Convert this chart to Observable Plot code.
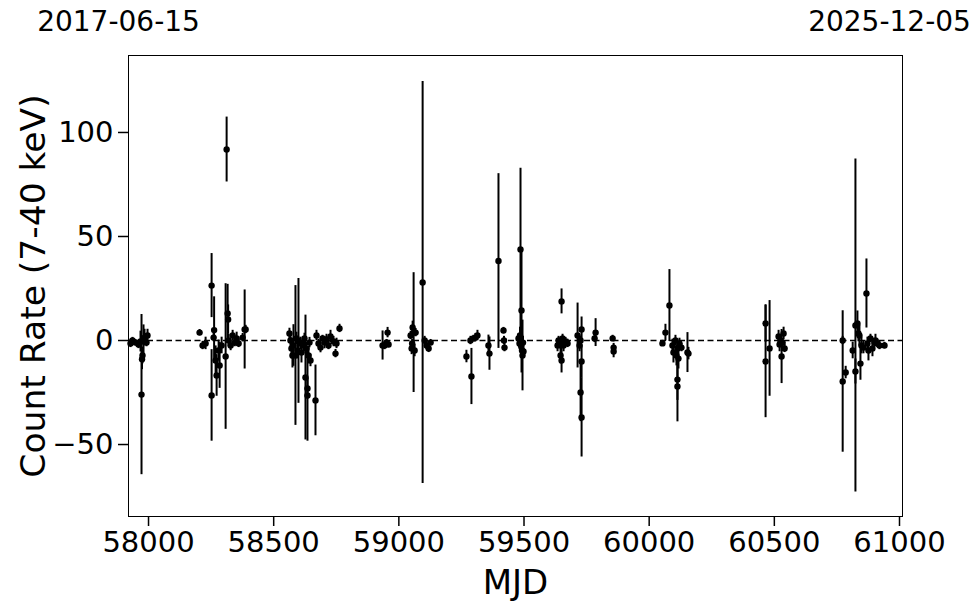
<!DOCTYPE html>
<html>
<head>
<meta charset="utf-8">
<script src="https://cdn.jsdelivr.net/npm/d3@7"></script>
<script src="https://cdn.jsdelivr.net/npm/@observablehq/plot@0.6"></script>
<style>
  html, body { margin: 0; padding: 0; background: #fff; }
  #chart svg { display: block; }
</style>
</head>
<body>
<div id="chart"></div>
<script>
const mjd = [
  57928,57936,57948,57960,57968,57972,57974,57976,57980,57984,57992,57996,
  58204,58216,58228,58252,58252,58260,58262,58268,58272,58280,58284,58292,58308,58312,58316,58318,58320,58328,58336,58344,58352,58360,58376,58384,58388,
  58563,58567,58571,58575,58579,58587,58591,58595,58599,58607,58611,58619,58623,58627,58631,58635,58635,58639,58643,58647,58667,58671,58679,58687,58695,58703,58711,58719,58727,58739,58747,58751,58763,
  58935,58943,58951,58955,58959,
  59047,59051,59053,59055,59059,59063,59067,59095,59103,59111,59119,59127,
  59270,59286,59290,59298,59306,59314,
  59358,59362,
  59398,59418,59420,59422,
  59478,59482,59484,59486,59488,59490,59492,59494,59496,59498,
  59634,59638,59646,59646,59650,59650,59654,59658,59666,59674,
  59714,59722,59726,59726,59730,59730,59730,59782,59786,59854,59858,59858,
  60053,60065,60081,60093,60097,60105,60109,60113,60113,60113,60117,60121,60129,60153,60157,
  60465,60465,60481,60517,60521,60525,60529,60533,60537,60541,
  60773,60773,60785,60813,60824,60824,60832,60836,60840,60844,60848,60856,60868,60872,60876,60884,60892,60900,60904,60912,60920,60940
];
const rate = [
  -1.4,0,-1.0,-1.9,-0.5,-26.0,-9,-7.2,-0.5,1.4,-1.0,2.4,
  3.8,-2.4,-1.4,26.4,-26.4,1.4,5,-9.6,-16.8,-4.8,-12,-2.4,-7.7,91.8,13,10.1,0,-2.4,2.4,-1,1,-1.4,1.4,5.3,5.3,
  3.4,0,-3.8,-7.2,-2.4,-7.2,1,-4.8,-0.2,-1.4,-5.8,-2.4,1,-17.8,-3.8,-23.1,-26.4,-7.2,-1,-9.6,-28.8,2.4,-1.4,-3.4,1,-1,0.5,-2.4,1.9,-0.5,-6.3,-1.4,5.8,
  -2.4,-2.4,-1,3.8,-1.9,
  2.4,-3.8,-1.4,6.3,3.8,-4.8,3.8,27.9,0,-2.4,-3.8,-1,
  -7.7,0,-17.3,1,1.4,2.4,
  -2.4,-6.3,
  38.2,4.8,0,-3.4,
  1,-1.4,2.4,43.8,-2.4,14.4,-4.8,-7.2,-1,-5.3,
  -2.4,0,-1.4,-7.2,18.8,-9.6,1,-2.4,-0.5,-1.4,
  2.4,-2.4,0,-25.0,5.3,-10.1,-37.0,1,3.8,1,-3.4,-5.3,
  -1.4,3.8,16.8,-2.4,-5.8,0,-7.2,-3.8,-18.8,-22.1,-8.7,-1.4,-3.4,-5.8,-6.3,
  8.2,-10.1,-3.8,1.9,-1.9,0,-7.7,-1,3.4,-3.8,
  0,-19.7,-15.4,-4.8,7.2,-14.9,8.2,3.4,2.4,-11.1,-2.4,-3.4,22.6,-1.4,-4.8,1,-3.8,-1,0,-1.4,-2.4,-2.4
];
const err = [
  2,1.5,1.5,2,5,38.5,5,4,8,4,2,3,
  1.5,2,3,15.4,22,2,16,7,10,5,11,4,35,15.6,14,7,3,2.5,2.5,2,3,2,2,19,2,
  2.5,4,5,6,10,33.6,3,4,30,3,5,4,2.5,30,3,5,22,4,2.5,3,17,2.5,2,2.5,1.5,3,2.5,2,3,2.5,2,2.5,2,
  7,2,1.5,2.5,1.5,
  2,3,2,3,28.8,3,2,96.6,2,2,2,1.5,
  3,2,13.5,1.5,2,2.5,
  5,8,
  42,1.5,2,2,
  2,3,4,39,5,30,6,17,3,3,
  3,2,3,4,6,6,2,3,2,2,
  15.6,3,2,14,6,8,19,2,6.7,1.5,2,3,
  1.5,4,17.3,3,5,2.5,5,4,10,17,5,2.5,2,9.6,3,
  9,27,23,3,3.5,2,13,2,3,2,
  2,34,3,4,80,6,6,4,5,8,4,3,16.6,3,5,2,4,2,3,2,2,1.5
];
const xTicks = [58000, 58500, 59000, 59500, 60000, 60500, 61000];
const yTicks = [-50, 0, 50, 100];
const dateLabels = ["2017-06-15", "2025-12-05"];
const xLabel = "MJD";
const yLabel = "Count Rate (7-40 keV)";

const data = mjd.map((m, i) => ({mjd: m, rate: rate[i], err: err[i]}));

const plot = Plot.plot({
  width: 980,
  height: 613,
  marginTop: 55,
  marginLeft: 128,
  marginRight: 78,
  marginBottom: 97,
  style: {fontFamily: "DejaVu Sans", fontSize: "29px", color: "#000", background: "#fff"},
  x: {domain: [57920, 61012], ticks: xTicks, tickFormat: d => String(d), label: null},
  y: {domain: [-84.6, 137], ticks: yTicks, label: null},
  marks: [
    Plot.ruleY([0], {stroke: "#000", strokeWidth: 1.5, strokeDasharray: "6,3.5"}),
    Plot.ruleX(data, {x: "mjd", y1: d => d.rate - d.err, y2: d => d.rate + d.err, stroke: "#000", strokeWidth: 2}),
    Plot.dot(data, {x: "mjd", y: "rate", r: 3.2, fill: "#000", stroke: null}),
    Plot.frame({stroke: "#000", strokeWidth: 1}),
    Plot.axisX({ticks: xTicks, tickSize: 10, tickPadding: 5, tickFormat: d => String(d), fontSize: 29, strokeWidth: 1.5, label: null}),
    Plot.axisY({ticks: yTicks, tickSize: 10, tickPadding: 5, fontSize: 29, strokeWidth: 1.5, label: null}),
    Plot.text([xLabel], {frameAnchor: "bottom", dy: 67, fontSize: 34, lineAnchor: "middle", fill: "#000"}),
    Plot.text([yLabel], {frameAnchor: "left", dx: -95, rotate: -90, fontSize: 34.5, lineAnchor: "middle", textAnchor: "middle", fill: "#000"}),
    Plot.text([dateLabels[0]], {frameAnchor: "top-left", dx: -10, dy: -33, fontSize: 28, lineAnchor: "middle", textAnchor: "middle", fill: "#000"}),
    Plot.text([dateLabels[1]], {frameAnchor: "top-right", dx: -13, dy: -33, fontSize: 28, lineAnchor: "middle", textAnchor: "middle", fill: "#000"})
  ]
});
document.getElementById("chart").appendChild(plot);
</script>
</body>
</html>
